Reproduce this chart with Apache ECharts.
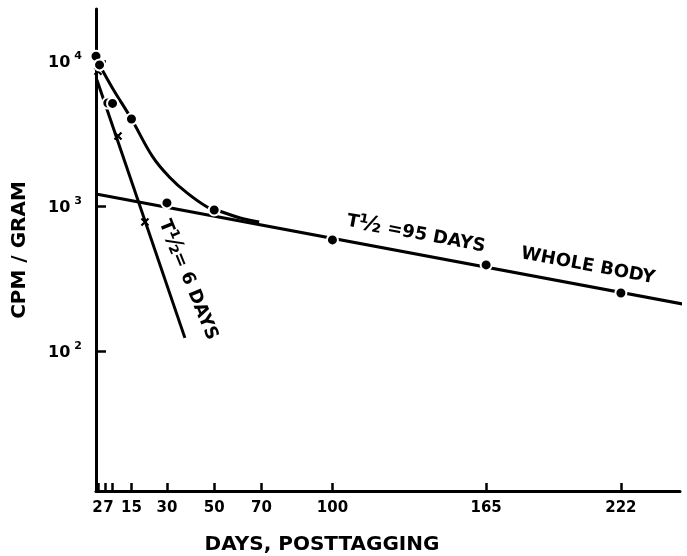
<!DOCTYPE html>
<html><head><meta charset="utf-8">
<script src="https://cdn.jsdelivr.net/npm/echarts@6/dist/echarts.min.js"></script>
<style>html,body{margin:0;padding:0;background:#fff}#c{width:687px;height:556px}</style>
</head><body><div id="c"></div>
<script>
// x-axis ticks and labels (days)
const xTickValues = [1, 4, 7, 15, 30, 50, 70, 100, 165, 222];
const xLabelValues = [0.6, 5.3, 15, 30, 50, 70, 100, 165, 222];
const xLabelTexts = ['2', '7', '15', '30', '50', '70', '100', '165', '222'];
// y-axis ticks (cpm/gram)
const yTickValues = [100, 1000, 10000];
// measured points (day, cpm/gram)
const dotDays   = [0, 1.5, 5, 7, 15, 30, 50, 100, 165, 222];
const dotValues = [10800, 9400, 5130, 5100, 3980, 1050, 938, 583, 392, 251];
// fast component points (x marks)
const crossDays   = [0.85, 9.3, 20.7];
const crossValues = [8500, 3040, 775];
// fitted lines
const wholeBodyDays   = [0, 250];
const wholeBodyValues = [1210, 208];
const fastDays   = [0.4, 37.6];
const fastValues = [7400, 123];
// hand-drawn total curve
const curveDays   = [1.5, 7, 15, 24, 31, 38.5, 47, 51, 61, 69];
const curveValues = [9400, 6500, 3980, 2180, 1585, 1230, 984, 938, 826, 775];

const zip = (a, b) => a.map((v, i) => [v, b[i]]);
const F = 'DejaVu Sans';
const chart = echarts.init(document.getElementById('c'));
chart.setOption({
  animation: false,
  backgroundColor: '#fff',
  grid: { left: 96, right: 7, top: 9, bottom: 65 },
  xAxis: {
    type: 'value', min: 0, max: 247,
    axisLine: { show: true, lineStyle: { color: '#000', width: 3 } },
    axisTick: { show: true, inside: true, length: 8, lineStyle: { color: '#000', width: 2.5 }, customValues: xTickValues },
    axisLabel: {
      customValues: xLabelValues, margin: 10, color: '#000', hideOverlap: false,
      showMinLabel: true, showMaxLabel: true,
      fontFamily: F, fontWeight: 'bold', fontSize: 15,
      formatter: v => { let best = 0; xLabelValues.forEach((x, i) => { if (Math.abs(x - v) < Math.abs(xLabelValues[best] - v)) best = i; }); return xLabelTexts[best]; }
    },
    splitLine: { show: false }
  },
  yAxis: {
    type: 'log', min: 10.8, max: 22860, logBase: 10,
    axisLine: { show: true, lineStyle: { color: '#000', width: 3 } },
    axisTick: { show: true, inside: true, length: 10, lineStyle: { color: '#000', width: 2.5 }, customValues: yTickValues },
    axisLabel: {
      customValues: yTickValues,
      margin: 14, color: '#000',
      formatter: v => '{b|10}{s|' + Math.round(Math.log10(v)) + '}',
      rich: {
        b: { fontFamily: F, fontWeight: 'bold', fontSize: 16, lineHeight: 20, verticalAlign: 'bottom', color: '#000' },
        s: { fontFamily: F, fontWeight: 'bold', fontSize: 11, lineHeight: 20, verticalAlign: 'top', color: '#000', padding: [0, 0, 0, 4] }
      }
    },
    splitLine: { show: false },
    name: 'CPM / GRAM', nameLocation: 'middle', nameRotate: 90, nameGap: 66,
    nameTextStyle: { fontFamily: F, fontWeight: 'bold', fontSize: 20, color: '#000' }
  },
  series: [
    { type: 'line', data: zip(wholeBodyDays, wholeBodyValues), symbol: 'none', clip: false,
      lineStyle: { color: '#000', width: 3 }, z: 2 },
    { type: 'line', data: zip(fastDays, fastValues), symbol: 'none',
      lineStyle: { color: '#000', width: 3 }, z: 2 },
    { type: 'line', data: zip(curveDays, curveValues), symbol: 'none', smooth: 0.4,
      lineStyle: { color: '#000', width: 3 }, z: 2 },
    { type: 'scatter', data: zip(crossDays, crossValues), symbol: 'path://M0,0L10,10M10,0L0,10', symbolSize: 7,
      itemStyle: { color: 'none', borderColor: '#000', borderWidth: 2.2, opacity: 1 }, z: 4 },
    { type: 'scatter', data: zip(dotDays, dotValues), symbol: 'circle', symbolSize: 11,
      itemStyle: { color: '#000', borderColor: '#fff', borderWidth: 2, opacity: 1 }, z: 5 }
  ],
  graphic: [
    { type: 'text', x: 416, y: 234, rotation: -0.186, z: 10,
      style: { text: '{t|T}{h|½}{t| =95 DAYS}', align: 'center', verticalAlign: 'middle', fill: '#000',
        rich: { t: { fontFamily: F, fontWeight: 'bold', fontSize: 18, fill: '#000' },
                h: { fontFamily: F, fontWeight: 'bold', fontSize: 22, fill: '#000' } } } },
    { type: 'text', x: 588, y: 266, rotation: -0.186, z: 10,
      style: { text: 'WHOLE BODY', align: 'center', verticalAlign: 'middle', fill: '#000',
        fontFamily: F, fontWeight: 'bold', fontSize: 18 } },
    { type: 'text', x: 188, y: 280, rotation: -1.18, z: 10,
      style: { text: '{t|T}{h|½}{t|= 6 DAYS}', align: 'center', verticalAlign: 'middle', fill: '#000',
        rich: { t: { fontFamily: F, fontWeight: 'bold', fontSize: 18, fill: '#000' },
                h: { fontFamily: F, fontWeight: 'bold', fontSize: 22, fill: '#000' } } } },
    { type: 'text', x: 322, y: 545, z: 10,
      style: { text: 'DAYS, POSTTAGGING', align: 'center', verticalAlign: 'middle', fill: '#000',
        fontFamily: F, fontWeight: 'bold', fontSize: 20 } }
  ]
});
</script></body></html>
